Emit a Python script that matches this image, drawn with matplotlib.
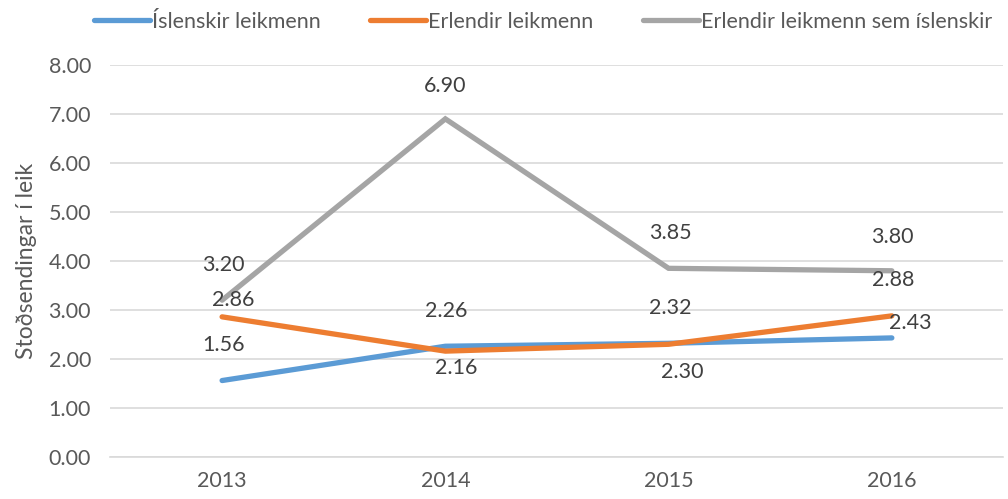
import matplotlib.pyplot as plt

# Data
years = ["2013", "2014", "2015", "2016"]
islenskir = [1.56, 2.26, 2.32, 2.43]
erlendir = [2.86, 2.16, 2.30, 2.88]
erlendir_sem_isl = [3.20, 6.90, 3.85, 3.80]
series_names = ["Íslenskir leikmenn", "Erlendir leikmenn", "Erlendir leikmenn sem íslenskir"]
y_ticks = [0, 1, 2, 3, 4, 5, 6, 7, 8]

colors = ["#5B9BD5", "#ED7D31", "#A5A5A5"]
# label offsets (pixels) per series / point
offsets = [
    [(1, 36), (1, 35), (2, 35), (18, 15)],
    [(11, 17), (11, -17), (14, -28), (1, 36)],
    [(1, 35), (0, 33), (2, 35), (1, 34)],
]

plt.rcParams["font.family"] = ["Lato", "DejaVu Sans"]

fig = plt.figure(figsize=(10.08, 4.99), dpi=100)
ax = fig.add_axes([0.1096, 0.0842, 0.8859, 0.7856])

x = list(range(len(years)))
for i, vals in enumerate([islenskir, erlendir, erlendir_sem_isl]):
    ax.plot(x, vals, color=colors[i], lw=3.8, label=series_names[i],
            solid_capstyle="round", solid_joinstyle="miter", zorder=3)
    for j, v in enumerate(vals):
        ax.annotate(f"{v:.2f}", (x[j], v), xytext=offsets[i][j],
                    textcoords="offset pixels", ha="center", va="center",
                    fontsize=15.5, color="#404040", zorder=4)

ax.set_xlim(-0.5, len(years) - 0.5)
ax.set_ylim(0, 8)
ax.set_xticks(x)
ax.set_xticklabels(years)
ax.set_yticks(y_ticks)
ax.set_yticklabels([f"{t:.2f}" for t in y_ticks])
ax.tick_params(axis="both", length=0, labelsize=15.5, labelcolor="#595959")
ax.tick_params(axis="x", pad=10)
ax.tick_params(axis="y", pad=14)
ax.grid(axis="y", color="#D9D9D9", lw=1.2)
ax.set_axisbelow(True)
for s in ["top", "right", "left"]:
    ax.spines[s].set_visible(False)
ax.spines["bottom"].set_color("#D9D9D9")
ax.spines["bottom"].set_linewidth(1.2)

ax.set_ylabel("Stoðsendingar í leik", fontsize=16.5, color="#595959", labelpad=8)

fig.legend(loc="upper center", bbox_to_anchor=(0.539, 1.015), ncol=3, frameon=False,
           fontsize=15.5, labelcolor="#595959", handlelength=2.6, handletextpad=0.1,
           columnspacing=2.3)

fig.savefig("out.png", dpi=100)
